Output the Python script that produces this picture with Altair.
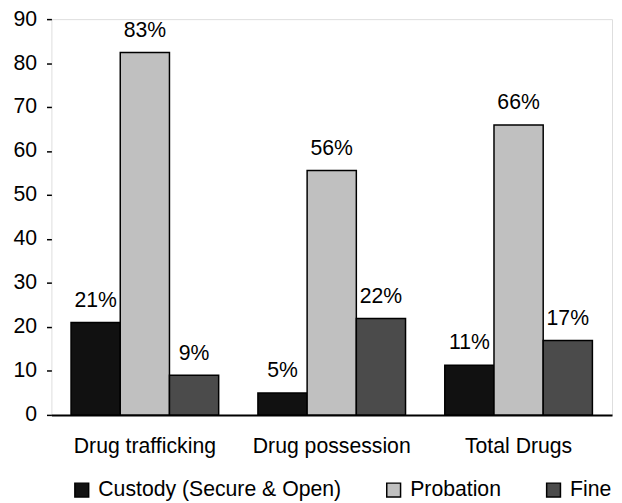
import altair as alt
import pandas as pd

categories = ["Drug trafficking", "Drug possession", "Total Drugs"]
series = ["Custody (Secure & Open)", "Probation", "Fine"]
custody = [21.0, 5.0, 11.3]
probation = [82.4, 55.6, 65.9]
fine = [9.0, 21.9, 16.9]
custody_labels = ["21%", "5%", "11%"]
probation_labels = ["83%", "56%", "66%"]
fine_labels = ["9%", "22%", "17%"]
colors = ["#111111", "#c0c0c0", "#4b4b4b"]

rows = []
for vals, labs, s in [(custody, custody_labels, series[0]),
                      (probation, probation_labels, series[1]),
                      (fine, fine_labels, series[2])]:
    for c, v, l in zip(categories, vals, labs):
        rows.append({"category": c, "series": s, "value": v, "label": l})
df = pd.DataFrame(rows)

FONT = "Liberation Sans"
FS = 21.5

x = alt.X("category:N", sort=categories, title=None,
          scale=alt.Scale(paddingInner=0.21, paddingOuter=0.105),
          axis=alt.Axis(labelAngle=0, ticks=False, tickSize=0, labelPadding=21,
                        labelFontSize=FS, labelFont=FONT, labelColor="black",
                        domainColor="black", domainWidth=2))
xo = alt.XOffset("series:N", sort=series,
                 scale=alt.Scale(paddingInner=0, paddingOuter=0))
y = alt.Y("value:Q", title=None,
          scale=alt.Scale(domain=[0, 90], nice=False),
          axis=alt.Axis(values=list(range(0, 91, 10)), grid=False, domain=False,
                        tickSize=5, tickColor="black", tickWidth=1.5,
                        labelPadding=10, labelFontSize=FS, labelFont=FONT,
                        labelColor="black"))

bars = alt.Chart(df).mark_bar(stroke="black", strokeWidth=1.5).encode(
    x=x, xOffset=xo, y=y,
    color=alt.Color("series:N", sort=series,
                    scale=alt.Scale(domain=series, range=colors),
                    legend=alt.Legend(orient="none", legendX=20, legendY=466,
                                      direction="horizontal", title=None,
                                      symbolType="square", symbolSize=196,
                                      symbolStrokeColor="black", symbolStrokeWidth=1.5,
                                      symbolOpacity=1,
                                      labelFontSize=FS, labelFont=FONT,
                                      labelColor="black", columnPadding=42,
                                      labelOffset=6, labelLimit=400)),
)

labels = alt.Chart(df).mark_text(font=FONT, fontSize=FS, color="black",
                                 baseline="alphabetic", dy=-16).encode(
    x=x, xOffset=xo, y=y, text="label:N"
)

chart = alt.layer(bars, labels).properties(
    width=568, height=401,
    autosize=alt.AutoSizeParams(type="none"),
    padding={"left": 44, "top": 8, "right": 2, "bottom": 86},
).configure_view(stroke="black", strokeWidth=1.5).configure(background="white")

chart.save("out.html", embed_options={"renderer": "svg", "actions": False})
